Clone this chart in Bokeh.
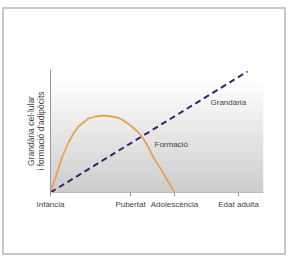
import numpy as np
from bokeh.plotting import figure
from bokeh.models import FixedTicker, Label, LinearColorMapper
from bokeh.embed import file_html
from bokeh.resources import INLINE

# Stages along the x axis (relative position)
stage_labels = ["Infància", "Pubertat", "Adolescència", "Edat adulta"]
stage_pos = [0, 80, 124, 188]

# Grandària (cell size) - dashed straight line
size_x = [0, 197]
size_y = [0, 121]

# Formació (adipocyte formation) - orange curve
form_x = [0, 4.7, 8, 11, 15, 18, 23, 28, 33, 38, 45, 53, 61, 67, 73, 80, 87, 92, 97, 103, 110, 117, 124]
form_y = [0, 14, 24, 34, 43, 50, 59, 66, 70, 74, 76, 77, 76, 75, 72, 67, 61, 55, 47, 35, 24, 12, 0]

FONT = "Liberation Sans"
TXT = "#444444"

p = figure(width=284, height=248, output_backend="svg", toolbar_location=None,
           x_range=(0, 213), y_range=(0, 123),
           min_border_left=46, min_border_right=25, min_border_top=60, min_border_bottom=65)
p.margin = (7, 0, 0, 2)
p.styles = {"border": "2px solid #c8c8c8"}
p.background_fill_color = "white"
p.border_fill_color = "white"
p.outline_line_color = None

# vertical gradient background
grad = np.linspace(0.0, 1.0, 128).reshape(128, 1)
mapper = LinearColorMapper(palette=["#%02x%02x%02x" % (v, v, v) for v in np.linspace(0xcd, 0xff, 64).astype(int)],
                           low=0, high=0.92)
p.image(image=[grad], x=0, y=0, dw=213, dh=123, color_mapper=mapper)

# grid
p.xgrid.ticker = FixedTicker(ticks=stage_pos[1:])
p.xgrid.grid_line_color = "white"
p.xgrid.grid_line_width = 1
p.xgrid.level = "image"
p.ygrid.grid_line_color = None

# x axis
p.xaxis.ticker = FixedTicker(ticks=stage_pos)
p.xaxis.major_label_overrides = {pos: lab for pos, lab in zip(stage_pos, stage_labels)}
p.xaxis.major_label_text_font = FONT
p.xaxis.major_label_text_font_size = "8px"
p.xaxis.major_label_text_color = TXT
p.xaxis.major_tick_out = 4
p.xaxis.major_tick_in = 0
p.xaxis.major_tick_line_color = "#999999"
p.xaxis.minor_tick_line_color = None
p.xaxis.axis_line_color = "#bbbbbb"
p.xaxis.major_label_standoff = 3

# y axis
p.yaxis.ticker = FixedTicker(ticks=[])
p.yaxis.minor_tick_line_color = None
p.yaxis.major_tick_line_color = None
p.yaxis.axis_line_color = "#999999"
p.yaxis.axis_label = "Grandària cel·lular\ni formació d'adipòcits"
p.yaxis.axis_label_text_font = FONT
p.yaxis.axis_label_text_font_size = "8.5px"
p.yaxis.axis_label_text_font_style = "normal"
p.yaxis.axis_label_text_color = TXT
p.yaxis.axis_label_text_line_height = 0.95
p.yaxis.axis_label_standoff = 5

# data
p.line(form_x, form_y, line_color="#e9a050", line_width=1.8)
p.line(size_x, size_y, line_color="#2b2872", line_width=2, line_dash="6 4")

p.add_layout(Label(x=160, y=90, text="Grandària", text_font=FONT, text_font_size="8px",
                   text_color=TXT, text_baseline="middle"))
p.add_layout(Label(x=104, y=48, text="Formació", text_font=FONT, text_font_size="8px",
                   text_color=TXT, text_baseline="middle"))

open("out.html", "w").write(file_html(p, INLINE))
